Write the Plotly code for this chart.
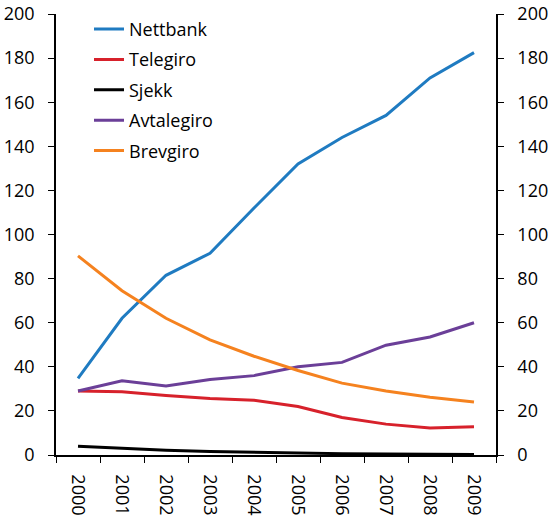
import plotly.graph_objects as go

years = ["2000", "2001", "2002", "2003", "2004", "2005", "2006", "2007", "2008", "2009"]

nettbank = [34.8, 62, 81.5, 91.5, 112, 132, 144, 154, 171, 182.5]
telegiro = [29, 28.7, 27, 25.6, 24.8, 22, 17, 14, 12.3, 12.8]
sjekk = [4, 3, 2.2, 1.6, 1.2, 0.9, 0.6, 0.4, 0.3, 0.2]
avtalegiro = [29, 33.7, 31.3, 34.2, 36, 40, 42, 49.8, 53.5, 60]
brevgiro = [90.3, 74.5, 62, 52.2, 44.8, 38.3, 32.6, 29, 26.2, 24]

series = [
    ("Nettbank", nettbank, "#1f7bc1"),
    ("Telegiro", telegiro, "#d7212b"),
    ("Sjekk", sjekk, "#000000"),
    ("Avtalegiro", avtalegiro, "#6b3f98"),
    ("Brevgiro", brevgiro, "#f5821f"),
]

fig = go.Figure()
for name, vals, col in series:
    fig.add_trace(
        go.Scatter(
            x=years,
            y=vals,
            mode="lines",
            name=name,
            legendgroup=name,
            line=dict(color=col, width=3),
        )
    )

# dummy trace so the right-hand axis is drawn
fig.add_trace(
    go.Scatter(x=years, y=[None] * len(years), yaxis="y2", showlegend=False, hoverinfo="skip")
)

font = dict(family="Open Sans, Lato, sans-serif", size=18, color="black")

yax = dict(
    range=[0, 200],
    dtick=20,
    showline=True,
    linecolor="black",
    linewidth=1.5,
    ticks="outside",
    ticklen=6,
    tickcolor="black",
    ticklabelstandoff=10,
    showgrid=False,
    zeroline=False,
    automargin=False,
)

fig.update_layout(
    width=550,
    height=521,
    plot_bgcolor="white",
    paper_bgcolor="white",
    font=font,
    margin=dict(l=56, r=54, t=13, b=66),
    showlegend=True,
    legend=dict(
        x=0.075,
        y=1.005,
        xanchor="left",
        yanchor="top",
        bgcolor="rgba(0,0,0,0)",
        font=font,
        tracegroupgap=4,
    ),
    xaxis=dict(
        type="category",
        range=[-0.5, 9.5],
        showline=True,
        linecolor="black",
        linewidth=1.5,
        ticks="outside",
        tickson="boundaries",
        ticklen=6,
        tickcolor="black",
        tickangle=90,
        ticklabelstandoff=14,
        showgrid=False,
        zeroline=False,
        automargin=False,
    ),
    yaxis=yax,
    yaxis2=dict(yax, overlaying="y", side="right"),
)

# drop the default body margin so the figure sits at the window's corner
fig.write_html(
    "out.html",
    config={"displayModeBar": False},
    post_script="document.body.style.margin='0';",
)
